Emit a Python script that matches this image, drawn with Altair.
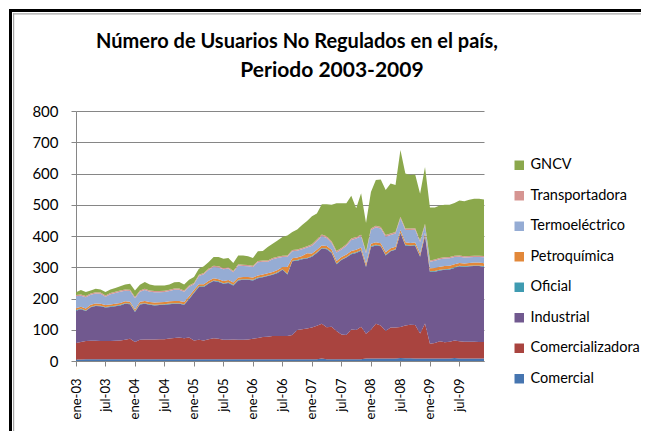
import altair as alt
import pandas as pd

# ---- data ----
meses_abbr = ["ene", "feb", "mar", "abr", "may", "jun", "jul", "ago", "sep", "oct", "nov", "dic"]
anios = ["03", "04", "05", "06", "07", "08", "09"]
meses = [f"{m}-{a}" for a in anios for m in meses_abbr]

comercial = [
    5, 5, 6, 6, 6, 6, 6, 6, 6, 6, 6, 6,
    6, 6, 6, 6, 6, 6, 6, 6, 6, 6, 6, 6,
    6, 6, 6, 6, 6, 6, 6, 6, 6, 6, 6, 6,
    6, 6, 6, 6, 6, 6, 6, 6, 6, 6, 6, 6,
    6, 6, 8, 6, 6, 6, 6, 6, 6, 6, 6, 8,
    8, 8, 8, 8, 8, 8, 10, 9, 9, 8, 8, 8,
    8, 8, 8, 8, 8, 10, 8, 8, 8, 8, 8, 8,
]
comercializadora = [
    53, 56, 58, 59, 59, 58, 58, 58, 59, 60, 62, 65,
    55, 62, 63, 63, 63, 64, 64, 66, 68, 69, 67, 69,
    60, 62, 60, 64, 67, 65, 62, 62, 63, 62, 62, 63,
    65, 68, 71, 72, 74, 74, 74, 74, 77, 93, 96, 98,
    101, 107, 111, 102, 104, 90, 79, 77, 95, 93, 104, 79,
    92, 111, 106, 88, 99, 99, 99, 105, 107, 107, 80, 112,
    47, 50, 55, 52, 54, 56, 55, 54, 54, 54, 53, 53,
]
industrial = [
    103, 105, 96, 107, 111, 111, 107, 109, 110, 112, 115, 111,
    96, 113, 114, 111, 109, 109, 110, 110, 109, 108, 107, 123,
    152, 169, 171, 178, 183, 182, 179, 182, 173, 190, 192, 191,
    187, 191, 191, 194, 196, 202, 212, 197, 236, 222, 224, 224,
    227, 233, 241, 250, 236, 214, 238, 248, 241, 247, 243, 214,
    265, 251, 253, 242, 244, 249, 300, 256, 252, 254, 246, 281,
    230, 228, 227, 232, 231, 232, 240, 239, 241, 242, 243, 241,
]
oficial = [
    2, 2, 2, 2, 2, 2, 2, 2, 2, 2, 2, 2,
    2, 2, 2, 2, 2, 2, 2, 2, 2, 2, 2, 2,
    2, 2, 2, 2, 2, 2, 2, 2, 2, 2, 2, 2,
    2, 2, 2, 2, 2, 2, 2, 2, 2, 2, 2, 2,
    2, 2, 2, 2, 2, 2, 2, 2, 2, 2, 2, 2,
    2, 2, 2, 2, 2, 2, 2, 2, 2, 2, 2, 2,
    2, 2, 2, 2, 2, 2, 2, 2, 2, 2, 2, 2,
]
petroquimica = [
    6, 6, 6, 6, 6, 6, 6, 6, 6, 6, 6, 6,
    6, 7, 7, 7, 7, 7, 7, 7, 7, 7, 7, 7,
    7, 7, 7, 7, 7, 7, 7, 7, 7, 7, 7, 7,
    7, 7, 7, 7, 7, 7, 7, 22, 8, 8, 8, 15,
    8, 8, 8, 8, 8, 8, 8, 8, 8, 8, 8, 8,
    8, 8, 8, 8, 8, 8, 8, 8, 8, 8, 8, 8,
    10, 10, 10, 10, 10, 10, 9, 9, 9, 9, 9, 9,
]
termoelectrico = [
    38, 35, 36, 32, 32, 32, 27, 33, 35, 36, 34, 34,
    36, 32, 35, 33, 33, 32, 32, 33, 36, 36, 33, 31,
    19, 26, 32, 35, 36, 37, 38, 37, 33, 39, 35, 34,
    34, 42, 41, 37, 41, 39, 32, 33, 22, 22, 22, 18,
    25, 28, 30, 26, 22, 27, 24, 28, 35, 36, 36, 34,
    44, 48, 47, 50, 42, 42, 38, 39, 41, 41, 37, 23,
    21, 23, 24, 24, 24, 23, 20, 19, 18, 18, 18, 19,
]
transportadora = [
    4, 4, 4, 4, 4, 4, 4, 4, 4, 4, 4, 4,
    4, 4, 4, 4, 4, 4, 4, 4, 4, 4, 4, 4,
    4, 4, 4, 4, 4, 4, 4, 4, 4, 4, 4, 4,
    4, 4, 4, 4, 4, 4, 4, 4, 4, 4, 4, 4,
    5, 5, 5, 5, 5, 5, 5, 5, 5, 5, 5, 5,
    5, 5, 5, 5, 5, 5, 5, 5, 5, 5, 5, 5,
    4, 4, 4, 4, 4, 4, 4, 4, 4, 4, 4, 4,
]
gncv = [
    9, 14, 13, 10, 11, 10, 11, 11, 12, 13, 16, 19,
    21, 18, 22, 19, 18, 18, 17, 17, 20, 21, 19, 18,
    19, 19, 21, 21, 28, 30, 29, 30, 26, 28, 30, 28,
    25, 31, 30, 43, 45, 52, 60, 64, 58, 64, 73, 81,
    89, 83, 97, 103, 117, 153, 143, 131, 137, 92, 133, 92,
    117, 146, 152, 144, 160, 150, 213, 176, 171, 172, 149, 182,
    169, 166, 168, 168, 167, 169, 176, 176, 180, 182, 182, 181,
]

series = ["Comercial", "Comercializadora", "Industrial", "Oficial",
          "Petroquímica", "Termoeléctrico", "Transportadora", "GNCV"]
valores = [comercial, comercializadora, industrial, oficial,
           petroquimica, termoelectrico, transportadora, gncv]
colores = ["#4675B0", "#A9443F", "#71598F", "#3F9BB1",
           "#E2883A", "#95ACD4", "#D69592", "#8BA84C"]

titulo1 = "Número de Usuarios No Regulados en el país,"
titulo2 = "Periodo 2003-2009"

rows = []
for k, (s, vals) in enumerate(zip(series, valores)):
    for i, v in enumerate(vals):
        rows.append({"mes": meses[i], "serie": s, "orden": k, "valor": v})
df = pd.DataFrame(rows)

FONT = "Lato"
AX = "#868686"

area = alt.Chart(df).mark_area(interpolate="linear", opacity=1).encode(
    x=alt.X("mes:O", sort=meses,
            scale=alt.Scale(type="point", padding=0),
            axis=alt.Axis(values=meses[::6], labelAngle=-90, title=None,
                          labelFont=FONT, labelFontSize=13, labelColor="black",
                          tickSize=5, tickColor=AX, domainColor=AX,
                          labelPadding=12, grid=False)),
    y=alt.Y("valor:Q", stack="zero",
            scale=alt.Scale(domain=[0, 800], nice=False),
            axis=alt.Axis(values=list(range(0, 801, 100)), title=None,
                          grid=True, gridColor=AX, gridWidth=1,
                          tickSize=5, tickColor=AX, domainColor=AX,
                          labelFont=FONT, labelFontSize=15, labelColor="black",
                          labelPadding=13)),
    color=alt.Color("serie:N",
                    scale=alt.Scale(domain=series[::-1], range=colores[::-1]),
                    legend=alt.Legend(title=None, orient="none",
                                      legendX=436, legendY=47,
                                      symbolType="square", symbolSize=90,
                                      symbolStrokeWidth=0, rowPadding=15.5,
                                      labelFont=FONT, labelFontSize=14.5,
                                      labelColor="black", labelOffset=4,
                                      padding=0, labelLimit=200)),
    order=alt.Order("orden:Q", sort="ascending"),
)

t1 = alt.Chart(pd.DataFrame({"t": [titulo1]})).mark_text(
    font=FONT, fontSize=20, fontWeight="bold", align="center",
    baseline="alphabetic", color="black"
).encode(text="t:N", x=alt.value(297 - 76), y=alt.value(48 - 111))

t2 = alt.Chart(pd.DataFrame({"t": [titulo2]})).mark_text(
    font=FONT, fontSize=21, fontWeight="bold", align="center",
    baseline="alphabetic", color="black"
).encode(text="t:N", x=alt.value(332 - 76), y=alt.value(77 - 111))

# chart frame (decoration): thin filled rectangles, no stroke
borde = pd.DataFrame({"b": [0]})
def franja(color, x0, x1, y0, y1):
    return alt.Chart(borde).mark_rect(color=color, strokeWidth=0).encode(
        x=alt.value(x0), x2=alt.value(x1), y=alt.value(y0), y2=alt.value(y1))

b_top = franja("black", -67, 565, -102, -99)
b_left = franja("black", -67, -64, -102, 340)
g_top = franja("#A6A6A6", -63, 565, -97.7, -96.5)
g_left = franja("#A6A6A6", -63, -61.8, -97.7, 340)

chart = alt.layer(area, t1, t2, b_top, b_left, g_top, g_left).properties(
    width=408, height=250,
    padding={"left": 68, "top": 103, "right": 157, "bottom": 70},
    autosize=alt.AutoSizeParams(type="none"),
).configure_view(stroke=None)

chart.save("out.html", embed_options={"renderer": "svg", "actions": False})
